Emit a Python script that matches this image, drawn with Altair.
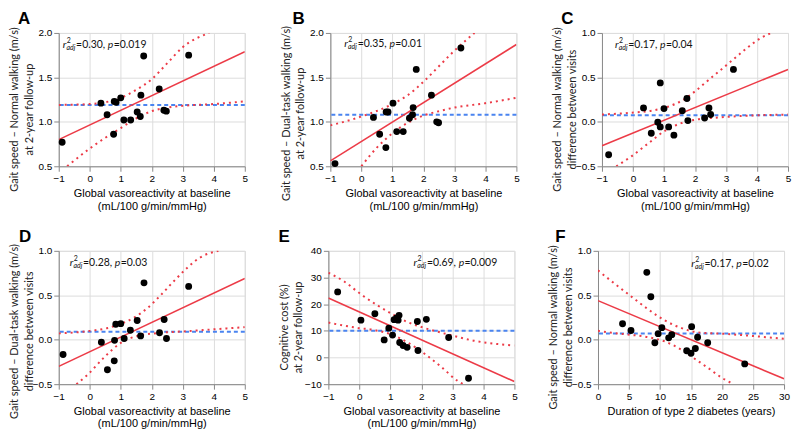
import altair as alt
import pandas as pd

# ---------------- data ----------------
A_x = [-0.89, 0.36, 0.56, 0.79, 0.85, 1.00, 0.77, 1.10, 1.32, 1.53, 1.63, 1.65, 1.74, 2.24, 2.39, 2.47, 3.19]
A_y = [0.77, 1.21, 1.08, 1.23, 1.22, 1.27, 0.86, 1.02, 1.02, 1.11, 1.06, 1.30, 1.74, 1.37, 1.13, 1.12, 1.75]
A_fit_x = [-1, 5]
A_fit_y = [0.80, 1.79]
A_mean = 1.19
A_up_x = [-1, 0, 0.5, 1, 1.5, 2, 2.5, 3, 3.85]
A_up_y = [1.19, 1.20, 1.22, 1.27, 1.36, 1.48, 1.66, 1.84, 2.0]
A_lo_x = [-0.73, 0, 0.5, 1, 1.5, 2, 2.5, 3, 4, 5]
A_lo_y = [0.50, 0.70, 0.82, 0.93, 1.04, 1.12, 1.16, 1.18, 1.20, 1.23]

B_x = [-0.85, 0.39, 0.59, 0.80, 0.86, 1.02, 0.79, 1.14, 1.35, 1.55, 1.65, 1.67, 1.77, 2.26, 2.43, 2.49, 3.21]
B_y = [0.53, 1.05, 0.86, 1.11, 1.11, 1.21, 0.71, 0.89, 0.89, 1.04, 1.08, 1.16, 1.59, 1.30, 1.00, 0.99, 1.83]
B_fit_x = [-1, 5]
B_fit_y = [0.56, 1.87]
B_mean = 1.08
B_up_x = [-1, 0, 1, 1.5, 2, 2.5, 3, 3.65]
B_up_y = [0.96, 1.06, 1.20, 1.30, 1.45, 1.625, 1.80, 2.0]
B_lo_x = [0, 0.5, 1, 1.5, 2, 2.5, 3, 4, 5]
B_lo_y = [0.50, 0.71, 0.87, 0.99, 1.07, 1.12, 1.16, 1.21, 1.27]

C_x = [-0.785, 0.34, 0.59, 0.80, 0.88, 0.88, 1.00, 1.15, 1.32, 1.59, 1.74, 1.77, 2.31, 2.45, 2.505, 3.24]
C_y = [-0.37, 0.157, -0.128, -0.004, 0.438, -0.057, 0.149, -0.057, -0.15, 0.125, 0.263, 0.014, 0.043, 0.157, 0.082, 0.59]
C_fit_x = [-1, 5]
C_fit_y = [-0.27, 0.59]
C_mean = 0.075
C_up_x = [-1, -0.05, 0.59, 1.13, 1.56, 1.99, 2.42, 2.85, 3.28, 3.71, 4.14, 4.46]
C_up_y = [0.082, 0.103, 0.125, 0.17, 0.235, 0.34, 0.466, 0.59, 0.715, 0.84, 0.947, 1.0]
C_lo_x = [-0.54, -0.05, 0.48, 1.02, 1.56, 2.1, 2.63, 3.39, 5]
C_lo_y = [-0.50, -0.388, -0.246, -0.103, -0.014, 0.028, 0.046, 0.064, 0.082]

D_x = [-0.86, 0.375, 0.57, 0.79, 0.80, 0.84, 1.00, 1.11, 1.31, 1.53, 1.64, 1.75, 2.25, 2.40, 2.475, 3.19]
D_y = [-0.167, -0.028, -0.338, -0.238, -0.007, 0.174, 0.181, 0.014, 0.107, 0.217, 0.043, 0.64, 0.078, 0.228, 0.014, 0.60]
D_fit_x = [-1, 5]
D_fit_y = [-0.30, 0.69]
D_mean = 0.089
D_up_x = [-1, -0.06, 0.58, 1.0, 1.43, 1.86, 2.28, 2.71, 3.14, 3.56, 4.15]
D_up_y = [0.071, 0.096, 0.132, 0.178, 0.249, 0.356, 0.498, 0.658, 0.808, 0.925, 1.0]
D_lo_x = [-0.43, -0.06, 0.47, 1.0, 1.54, 2.07, 3.14, 5]
D_lo_y = [-0.50, -0.39, -0.196, -0.036, 0.043, 0.071, 0.096, 0.142]

E_x = [-0.70, 0.05, 0.50, 0.95, 0.80, 1.07, 1.12, 1.20, 1.25, 1.28, 1.30, 1.41, 1.54, 1.89, 1.87, 2.16, 2.88, 3.52]
E_y = [24.6, 14.0, 16.4, 11.0, 6.6, 8.4, 14.2, 14.8, 14.0, 15.8, 5.6, 4.5, 3.8, 2.6, 13.5, 14.3, 7.5, -7.8]
E_fit_x = [-1, 5]
E_fit_y = [22.3, -9.0]
E_mean = 10.0
E_up_x = [-1, -0.49, 0.05, 0.59, 1.12, 1.55, 2.09, 2.84, 3.69, 5]
E_up_y = [31.8, 28.5, 23.7, 19.5, 15.9, 13.3, 11.1, 8.7, 6.3, 4.5]
E_lo_x = [-1, -0.06, 0.48, 1.01, 1.55, 2.09, 2.62, 3.16, 3.35]
E_lo_y = [13.1, 11.1, 10.3, 8.7, 5.7, 1.5, -3.3, -8.7, -10.0]

F_x = [3.96, 5.32, 7.87, 8.52, 9.17, 9.71, 10.3, 11.4, 11.9, 14.3, 15.0, 15.1, 15.7, 16.06, 17.69, 23.66]
F_y = [0.18, 0.104, 0.758, 0.483, -0.034, 0.068, 0.136, 0.021, 0.057, -0.124, -0.153, 0.147, -0.099, 0.028, -0.034, -0.272]
F_fit_x = [0, 30]
F_fit_y = [0.44, -0.44]
F_mean = 0.07
F_up_x = [0, 2.6, 5.3, 8.0, 10.7, 13.5, 16.2, 20, 30]
F_up_y = [0.78, 0.635, 0.49, 0.346, 0.22, 0.13, 0.082, 0.068, 0.01]
F_lo_x = [0, 2.6, 5.3, 8.0, 11.0, 13.46, 15.6, 17.8, 20.0, 21.9]
F_lo_y = [0.10, 0.075, 0.055, 0.03, -0.026, -0.113, -0.214, -0.32, -0.43, -0.50]

STATS = {"A": ("0.30", "0.019"), "B": ("0.35", "0.01"), "C": ("0.17", "0.04"),
         "D": ("0.28", "0.03"), "E": ("0.69", "0.009"), "F": ("0.17", "0.02")}

X_VASO = ["Global vasoreactivity at baseline", "(mL/100 g/min/mmHg)"]
X_DUR = "Duration of type 2 diabetes (years)"
Y_TITLES = {
    "A": ["Gait speed \u2013 Normal walking (m/s)", "at 2-year follow-up"],
    "B": ["Gait speed \u2013 Dual-task walking (m/s)", "at 2-year follow-up"],
    "C": ["Gait speed \u2013 Normal walking (m/s)", "difference between visits"],
    "D": ["Gait speed \u2013 Dual-task walking (m/s)", "difference between visits"],
    "E": ["Cognitive cost (%)", "at 2-year follow-up"],
    "F": ["Gait speed \u2013 Normal walking (m/s)", "difference between visits"],
}
X_TICKS_V = [-1, 0, 1, 2, 3, 4, 5]
X_TICKS_D = [0, 5, 10, 15, 20, 25, 30]
Y_TICKS_SPEED = [0.5, 1.0, 1.5, 2.0]
Y_TICKS_DIFF = [-0.5, 0.0, 0.5, 1.0]
Y_TICKS_COST = [-10, 0, 10, 20, 30, 40]

# ---------------- styling ----------------
RED = "#ec3b47"
BLUE = "#4a84f0"
FONT = "Lato"
PW, PH = 187, 134
TITLE_SIZE = 11.5
YT_SIZE = 11

CW = {c: 0.58 for c in "0123456789"}
CW.update({".": 0.26, ",": 0.26, " ": 0.2, "=": 0.58, "p": 0.56, "r": 0.36,
           "a": 0.51, "d": 0.56, "j": 0.24})


def tw(s, size):
    return sum(CW.get(c, 0.55) for c in s) * size


def txt(s, px, py, size, italic=False, dy=0, font=FONT, weight="normal",
        color="#111", align="left", angle=0):
    return alt.Chart(pd.DataFrame({"t": [s]})).mark_text(
        align=align, baseline="middle", font=font, fontSize=size,
        fontStyle="italic" if italic else "normal", fontWeight=weight,
        color=color, dy=dy, angle=angle
    ).encode(x=alt.value(px), y=alt.value(py), text="t:N")


def annotation(r2, p, y, x0=None, xend=None):
    S, s = 10.5, 7
    w = tw("r", S) + tw("adj", s) + 0.5 + tw(f"={r2}, ", S) + tw("p", S) + tw(f"={p}", S)
    if x0 is None:
        x0 = xend - w
    parts = []
    x = x0
    parts.append(txt("r", x, y, S, True))
    x += tw("r", S)
    parts.append(txt("2", x + 0.3, y, s, False, dy=-4))
    parts.append(txt("adj", x, y, s, True, dy=3))
    x += tw("adj", s) + 0.5
    parts.append(txt(f"={r2}, ", x, y, S))
    x += tw(f"={r2}, ", S)
    parts.append(txt("p", x, y, S, True))
    x += tw("p", S)
    parts.append(txt(f"={p}", x, y, S))
    return parts


def panel(letter, lx0, yc, xs, ys, fx, fy, mean, ux, uy, lx, ly, xdom, ydom,
          xt, yt, yfmt, xtitle, ann):
    X = alt.X("x:Q", scale=alt.Scale(domain=xdom, nice=False, zero=False),
              axis=alt.Axis(values=xt, format="d", title=xtitle,
                            labelFlush=False, labelOverlap=False,
                            titleFontWeight=400))
    Y = alt.Y("y:Q", scale=alt.Scale(domain=ydom, nice=False, zero=False),
              axis=alt.Axis(values=yt, format=yfmt, title=None,
                            labelOverlap=False))
    mean_l = alt.Chart(pd.DataFrame({"y": [mean]})).mark_rule(
        color=BLUE, strokeWidth=2, strokeDash=[4, 3]).encode(y=Y)
    up = alt.Chart(pd.DataFrame({"x": ux, "y": uy})).mark_line(
        color=RED, strokeWidth=2, strokeDash=[2, 4], clip=True,
        interpolate="monotone").encode(x=X, y=Y)
    lo = alt.Chart(pd.DataFrame({"x": lx, "y": ly})).mark_line(
        color=RED, strokeWidth=2, strokeDash=[2, 4], clip=True,
        interpolate="monotone").encode(x=X, y=Y)
    fit = alt.Chart(pd.DataFrame({"x": fx, "y": fy})).mark_line(
        color=RED, strokeWidth=1.6, clip=True).encode(x=X, y=Y)
    pts = alt.Chart(pd.DataFrame({"x": xs, "y": ys})).mark_circle(
        size=48, color="#000", opacity=1).encode(x=X, y=Y)
    r2, p = STATS[letter]
    texts = annotation(r2, p, **ann)
    t1, t2 = Y_TITLES[letter]
    yt1 = txt(t1, -44, yc, YT_SIZE, color="#222", align="center", angle=270)
    yt2 = txt(t2, -29, yc, YT_SIZE, color="#222", align="center", angle=270)
    lab = txt(letter, lx0, -14, 17, font="Liberation Sans", weight="bold", color="#000")
    return alt.layer(mean_l, up, lo, fit, pts, *texts, yt1, yt2, lab).properties(
        width=PW, height=PH)


YC = PH / 2 + 10
YC_LONG = PH / 2 + 14

pA = panel("A", -41, YC, A_x, A_y, A_fit_x, A_fit_y, A_mean, A_up_x, A_up_y, A_lo_x, A_lo_y,
           [-1, 5], [0.5, 2.0], X_TICKS_V, Y_TICKS_SPEED, ".1f", X_VASO, dict(x0=4, y=12))
pB = panel("B", -38, YC_LONG, B_x, B_y, B_fit_x, B_fit_y, B_mean, B_up_x, B_up_y, B_lo_x, B_lo_y,
           [-1, 5], [0.5, 2.0], X_TICKS_V, Y_TICKS_SPEED, ".1f", X_VASO, dict(x0=14, y=11))
pC = panel("C", -41, YC, C_x, C_y, C_fit_x, C_fit_y, C_mean, C_up_x, C_up_y, C_lo_x, C_lo_y,
           [-1, 5], [-0.5, 1.0], X_TICKS_V, Y_TICKS_DIFF, ".1f", X_VASO, dict(x0=13, y=12))
pD = panel("D", -40, YC_LONG, D_x, D_y, D_fit_x, D_fit_y, D_mean, D_up_x, D_up_y, D_lo_x, D_lo_y,
           [-1, 5], [-0.5, 1.0], X_TICKS_V, Y_TICKS_DIFF, ".1f", X_VASO, dict(x0=11, y=12))
pE = panel("E", -50, YC, E_x, E_y, E_fit_x, E_fit_y, E_mean, E_up_x, E_up_y, E_lo_x, E_lo_y,
           [-1, 5], [-10, 40], X_TICKS_V, Y_TICKS_COST, "d", X_VASO, dict(xend=PW - 17, y=12))
pF = panel("F", -43, YC, F_x, F_y, F_fit_x, F_fit_y, F_mean, F_up_x, F_up_y, F_lo_x, F_lo_y,
           [0, 30], [-0.5, 1.0], X_TICKS_D, Y_TICKS_DIFF, ".1f", X_DUR, dict(xend=PW - 15, y=13))

row1 = alt.hconcat(pA, pB, pC, spacing=31)
row2 = alt.hconcat(pD, pE, pF, spacing=29)

chart = alt.vconcat(row1, row2, spacing=15, padding=0).configure_axis(
    labelFont=FONT, titleFont=FONT, labelFontSize=9.5, titleFontSize=TITLE_SIZE,
    labelColor="#555", titleColor="#222", titleFontWeight=400,
    domainColor="#a8a8a8", tickColor="#a8a8a8", grid=False, tickSize=4, labelPadding=1
).configure_axisY(
    minExtent=16, maxExtent=16
).configure_axisX(
    titlePadding=3, titleLineHeight=13
).configure_view(
    stroke="#c8c8c8", strokeWidth=1
).configure(background="white")

chart.save("out.html", embed_options={"renderer": "svg", "actions": False})
